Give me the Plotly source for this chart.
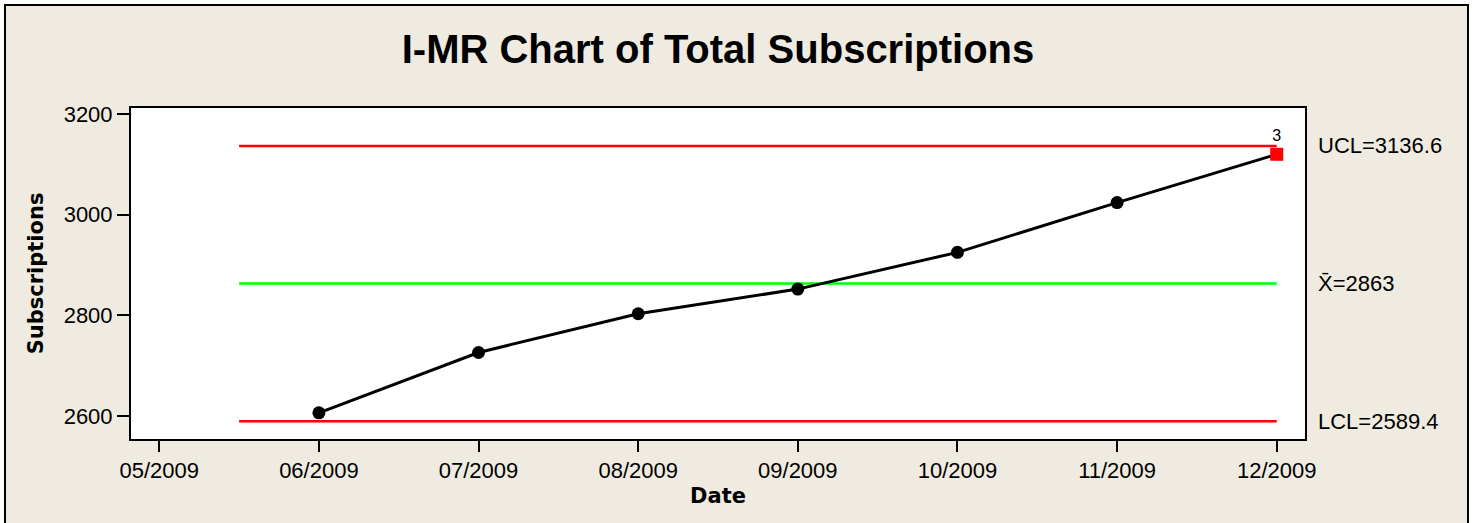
import plotly.graph_objects as go

months = ["05/2009", "06/2009", "07/2009", "08/2009", "09/2009",
          "10/2009", "11/2009", "12/2009"]
obs_months = months[1:]
subscriptions = [2606, 2726, 2803, 2852, 2925, 3024, 3120]
ucl = 3136.6
center = 2863
lcl = 2589.4
flagged = [False, False, False, False, False, False, True]
flag_label = "3"
y_ticks = [2600, 2800, 3000, 3200]

pos = {m: i for i, m in enumerate(months)}
xs = [pos[m] for m in obs_months]
x_start = 0.5
x_end = xs[-1]

bg = "#EFEBE1"
font = "Liberation Sans, Arial, sans-serif"
font_wide = "DejaVu Sans, Verdana, sans-serif"

fig = go.Figure()

# control lines
for val, col in [(ucl, "#FF0000"), (center, "#00FF00"), (lcl, "#FF0000")]:
    fig.add_trace(go.Scatter(x=[x_start, x_end], y=[val, val], mode="lines",
                             line=dict(color=col, width=2.5), hoverinfo="skip"))

fig.add_trace(go.Scatter(
    x=xs, y=subscriptions, mode="lines",
    line=dict(color="black", width=3)))

ok_x = [x for x, f in zip(xs, flagged) if not f]
ok_y = [y for y, f in zip(subscriptions, flagged) if not f]
bad_x = [x for x, f in zip(xs, flagged) if f]
bad_y = [y for y, f in zip(subscriptions, flagged) if f]

fig.add_trace(go.Scatter(x=ok_x, y=ok_y, mode="markers",
                         marker=dict(color="black", size=13, symbol="circle")))
fig.add_trace(go.Scatter(x=bad_x, y=bad_y, mode="markers+text",
                         marker=dict(color="#FF0000", size=13, symbol="square"),
                         text=[flag_label] * len(bad_x), textposition="top center",
                         textfont=dict(size=16, color="black", family=font)))

labels = [(ucl, "UCL=3136.6"), (center, "X\u0304=2863"), (lcl, "LCL=2589.4")]
for val, txt in labels:
    fig.add_annotation(x=1.0, xref="paper", y=val, yref="y", text=txt,
                       xanchor="left", xshift=11, showarrow=False,
                       font=dict(size=22, color="black", family=font))

# white page edge + outer black frame
fig.add_shape(type="rect", xref="paper", yref="paper",
              x0=-0.11158, x1=1.14310, y0=-0.5, y1=1.32628,
              line=dict(color="white", width=8), layer="above")
fig.add_shape(type="rect", xref="paper", yref="paper",
              x0=-0.10733, x1=1.13884, y0=-0.3, y1=1.31118,
              line=dict(color="black", width=2), layer="above")

fig.update_layout(
    width=1473, height=523,
    paper_bgcolor=bg, plot_bgcolor="white",
    margin=dict(l=131, r=168, t=108, b=84),
    showlegend=False,
    title=dict(text="<b>I-MR Chart of Total Subscriptions</b>", x=0.5,
               xref="paper", xanchor="center", y=0.906, yanchor="middle",
               font=dict(size=40, color="black", family=font)),
    font=dict(family=font, color="black"),
    xaxis=dict(range=[-0.177, 7.177], tickvals=list(range(len(months))),
               ticktext=months, ticks="outside", ticklen=11, tickwidth=2,
               tickcolor="black", showline=True, linewidth=2, linecolor="black",
               mirror=True, showgrid=False, zeroline=False,
               tickfont=dict(size=22),
               title=dict(text="<b>Date</b>",
                          font=dict(size=21, family=font_wide), standoff=6)),
    yaxis=dict(range=[2554, 3212], tickvals=y_ticks, ticks="outside",
               ticklen=12, tickwidth=2, tickcolor="black", showline=True,
               linewidth=2, linecolor="black", mirror=True, showgrid=False,
               zeroline=False, tickfont=dict(size=22),
               title=dict(text="<b>Subscriptions</b>",
                          font=dict(size=21, family=font_wide), standoff=14)),
)

fig.write_html("out.html", config={"displayModeBar": False},
               post_script="document.body.style.margin='0px';")
